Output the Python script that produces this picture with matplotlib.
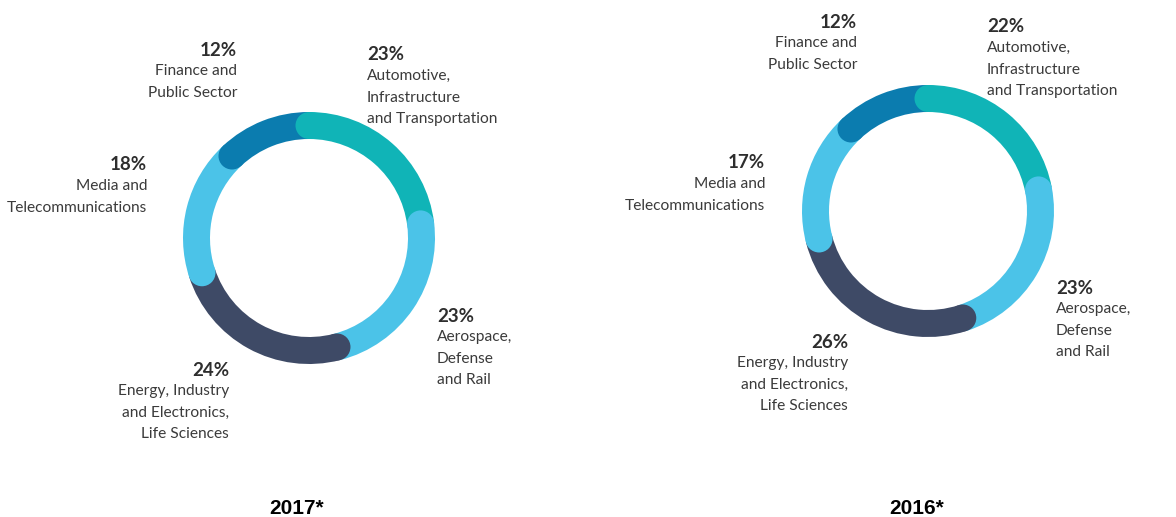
import matplotlib
matplotlib.use("Agg")
import matplotlib.pyplot as plt
from matplotlib.patches import Wedge, Circle
import numpy as np

# Revenue share by sector (clockwise from 12 o'clock)
sectors = ["Automotive,\nInfrastructure\nand Transportation",
           "Aerospace,\nDefense\nand Rail",
           "Energy, Industry\nand Electronics,\nLife Sciences",
           "Media and\nTelecommunications",
           "Finance and\nPublic Sector"]
share_2017 = [23, 23, 24, 18, 12]
share_2016 = [22, 23, 26, 17, 12]
years = ["2017*", "2016*"]

colors = ["#10B4B7", "#4BC3E8", "#3E4A66", "#4BC3E8", "#0B7CAF"]

W, H = 1176, 517
fig = plt.figure(figsize=(W / 100, H / 100), dpi=100)
ax = fig.add_axes([0, 0, 1, 1])
ax.set_xlim(0, W)
ax.set_ylim(0, H)
ax.set_aspect("equal")
ax.axis("off")

R_OUT, R_IN = 126, 99
R_MID = (R_OUT + R_IN) / 2
CAP = (R_OUT - R_IN) / 2

TXT = "#3b3b3b"
PCT = "#2e2e2e"
LINE = 21.3


def donut(cx, cy, values):
    cy = H - cy
    starts = np.concatenate([[0], np.cumsum(values)[:-1]]) / 100 * 360
    ends = np.cumsum(values) / 100 * 360
    for s, e, c in zip(starts, ends, colors):
        ax.add_patch(Wedge((cx, cy), R_OUT, 90 - e, 90 - s, width=R_OUT - R_IN,
                           facecolor=c, edgecolor="none", antialiased=True))
    # rounded leading ends overlapping the preceding segment
    for s, c in zip(starts, colors):
        a = np.deg2rad(90 - s)
        ax.add_patch(Circle((cx + R_MID * np.cos(a), cy + R_MID * np.sin(a)), CAP,
                            facecolor=c, edgecolor="none", zorder=3))


def label(x, y, pct, text, ha):
    ax.text(x, H - y, f"{pct}%", ha=ha, va="center", fontsize=13.5,
            fontweight="bold", family="Lato", color=PCT)
    for i, ln in enumerate(text.split("\n")):
        ax.text(x, H - (y + (i + 1) * LINE), ln, ha=ha, va="center",
                fontsize=11.2, family="Lato", color=TXT)


# chart 1
donut(309, 238, share_2017)
label(367, 55, share_2017[0], sectors[0], "left")
label(437, 316, share_2017[1], sectors[1], "left")
label(229, 370, share_2017[2], sectors[2], "right")
label(147, 165, share_2017[3], sectors[3], "right")
label(237, 50, share_2017[4], sectors[4], "right")
ax.text(297, H - 508, years[0], ha="center", va="center", fontsize=15,
        fontweight="bold", family="Liberation Sans", color="black")

# chart 2
donut(928, 211, share_2016)
label(987, 27, share_2016[0], sectors[0], "left")
label(1056, 288, share_2016[1], sectors[1], "left")
label(848, 342, share_2016[2], sectors[2], "right")
label(765, 163, share_2016[3], sectors[3], "right")
label(857, 22, share_2016[4], sectors[4], "right")
ax.text(917, H - 508, years[1], ha="center", va="center", fontsize=15,
        fontweight="bold", family="Liberation Sans", color="black")

fig.savefig("out.png", dpi=100, facecolor="white")
